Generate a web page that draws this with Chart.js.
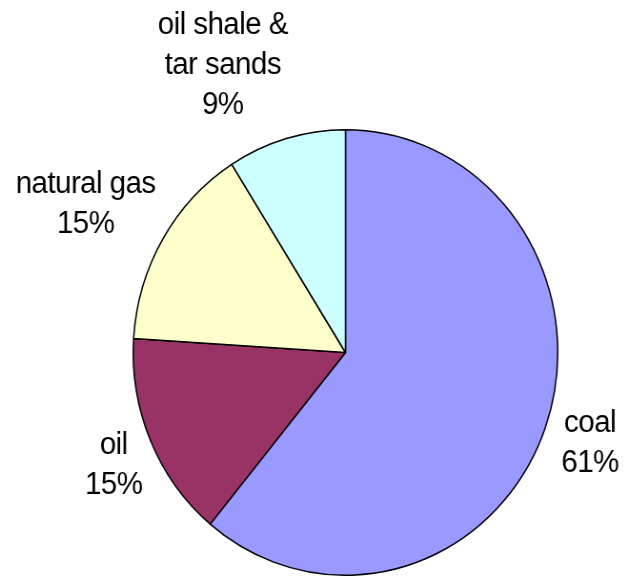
<!DOCTYPE html>
<html>
<head>
<meta charset="utf-8">
<script src="https://cdn.jsdelivr.net/npm/chart.js@4.4.1/dist/chart.umd.min.js"></script>
<style>
  html, body { margin: 0; padding: 0; background: #fff; overflow: hidden; }
  #wrap {
    width: 660px;
    height: 576px;
    transform: scaleX(0.953);
    transform-origin: 0 0;
  }
</style>
</head>
<body>
<div id="wrap"><canvas id="pieChart" width="660" height="576"></canvas></div>
<script>
const categories = ['coal', 'oil', 'natural gas', ['oil shale &', 'tar sands']];
const shares = [61, 15, 15, 9];
const sliceColors = ['#9999FF', '#993366', '#FFFFCC', '#CCFFFF'];

// label box centres, relative to the pie centre, in units of the radius
const labelOffsets = [[1.152, 0.408], [-1.092, 0.507], [-1.224, -0.666], [-0.578, -1.287]];

const outsideLabels = {
    id: 'outsideLabels',
    afterDatasetsDraw(chart) {
        const ctx = chart.ctx;
        const arcs = chart.getDatasetMeta(0).data;
        const total = shares.reduce((a, b) => a + b, 0);
        ctx.save();
        ctx.font = '31px "Liberation Sans", Arial, sans-serif';
        ctx.letterSpacing = '-0.6px';
        ctx.fillStyle = '#000';
        ctx.textAlign = 'center';
        ctx.textBaseline = 'middle';
        arcs.forEach((arc, i) => {
            const { x, y, outerRadius } = arc.getProps(['x', 'y', 'outerRadius'], true);
            const name = [].concat(categories[i]);
            const lines = name.concat(Math.round(shares[i] / total * 100) + '%');
            const cx = x + labelOffsets[i][0] * outerRadius;
            const cy = y + labelOffsets[i][1] * outerRadius;
            const lh = 40;
            lines.forEach((t, j) => {
                ctx.fillText(t, cx, cy + (j - (lines.length - 1) / 2) * lh);
            });
        });
        ctx.restore();
    }
};

new Chart(document.getElementById('pieChart').getContext('2d'), {
    type: 'pie',
    data: {
        labels: categories,
        datasets: [{
            data: shares,
            backgroundColor: sliceColors,
            borderColor: '#000',
            borderWidth: 1.5,
            hoverOffset: 0
        }]
    },
    options: {
        responsive: false,
        animation: false,
        events: [],
        layout: { padding: { top: 129, bottom: 0, left: 139, right: 74 } },
        plugins: {
            legend: { display: false },
            tooltip: { enabled: false }
        }
    },
    plugins: [outsideLabels]
});
</script>
</body>
</html>
